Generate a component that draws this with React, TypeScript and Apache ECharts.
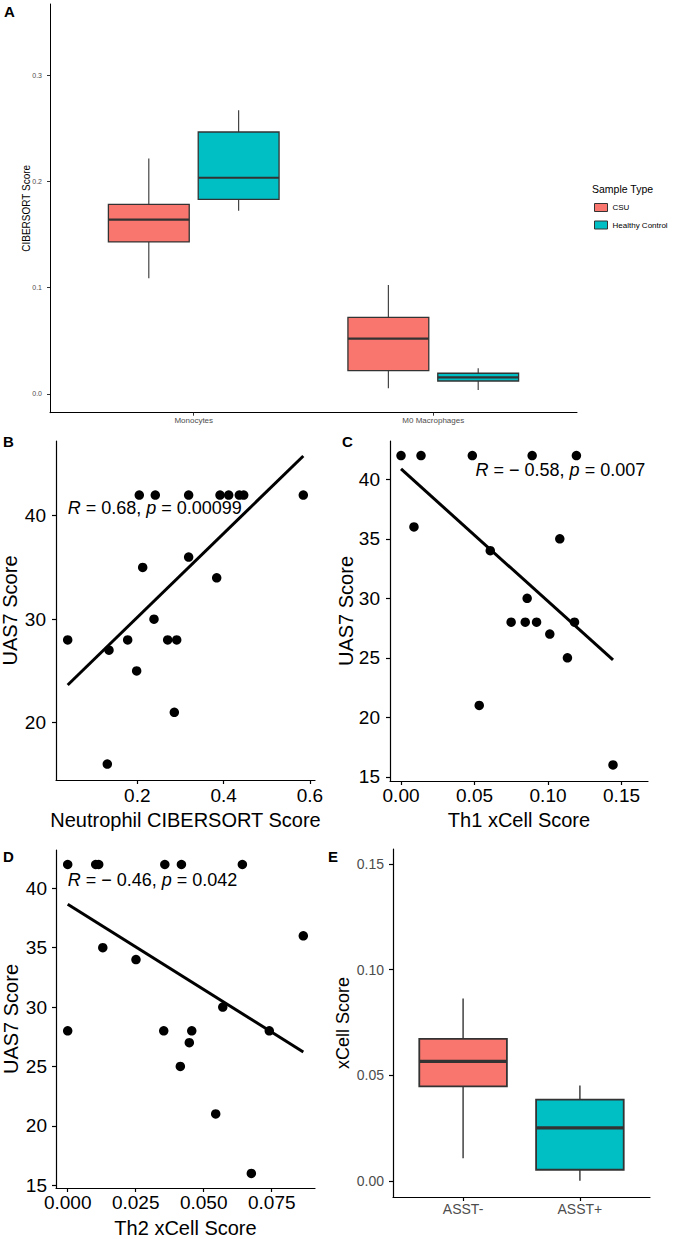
import React, { useEffect, useRef } from 'react';
import * as echarts from 'echarts';

const FONT = '"Liberation Sans", Arial, Helvetica, sans-serif';
const CSU_COLOR = '#F8766D';
const HC_COLOR = '#00BFC4';
const BOX_LINE = '#333333';
const GREY_TEXT = '#4D4D4D';

// ---------- Panel A ----------
const cellTypesA = ['Monocytes', 'M0 Macrophages'];
// [lower whisker, Q1, median, Q3, upper whisker]
const csuStatsA = [
  [0.1088, 0.143, 0.164, 0.1784, 0.2216],
  [0.0054, 0.0219, 0.052, 0.0721, 0.1025],
];
const hcStatsA = [
  [0.1724, 0.1831, 0.2034, 0.2464, 0.2668],
  [0.0038, 0.0122, 0.0157, 0.0195, 0.0242],
];
const yTicksA = [0, 0.1, 0.2, 0.3];
const sampleTypes = ['CSU', 'Healthy Control'];

// ---------- Panel B ----------
const neutrophilScore = [0.0387, 0.2046, 0.2417, 0.319, 0.3917, 0.4118, 0.4364, 0.4466, 0.5847, 0.319, 0.2125, 0.384, 0.2387, 0.2704, 0.2913, 0.1777, 0.1344, 0.1985, 0.2858, 0.1305];
const uasB = [28, 42, 42, 42, 42, 42, 42, 42, 42, 36, 35, 34, 30, 28, 28, 28, 27, 25, 21, 16];
const fitB = [[0.0387, 23.64], [0.5847, 45.77]];
const annB = { x: 0.0387, y: 40.72, text: '{i|R} = 0.68, {i|p} = 0.00099' };
const xTicksB = [0.2, 0.4, 0.6];
const yTicksB = [20, 30, 40];

// ---------- Panel C ----------
const th1Score = [0.0, 0.0136, 0.0485, 0.0892, 0.1193, 0.0088, 0.0607, 0.108, 0.0858, 0.0749, 0.0845, 0.0922, 0.118, 0.1012, 0.1132, 0.0532, 0.1442];
const uasC = [42, 42, 42, 42, 42, 36, 34, 35, 30, 28, 28, 28, 28, 27, 25, 21, 16];
const fitC = [[0.0, 40.87], [0.1442, 24.82]];
const annC = { x: 0.0507, y: 40.78, text: '{i|R} = \u2212 0.58, {i|p} = 0.007' };
const xTicksC = [0, 0.05, 0.1, 0.15];
const yTicksC = [15, 20, 25, 30, 35, 40];

// ---------- Panel D ----------
const th2Score = [0.0, 0.0, 0.0103, 0.0114, 0.0357, 0.0418, 0.0642, 0.0129, 0.0251, 0.0866, 0.057, 0.0353, 0.0456, 0.0741, 0.0447, 0.0414, 0.0544, 0.0675];
const uasD = [42, 28, 42, 42, 42, 42, 42, 35, 34, 36, 30, 28, 28, 28, 27, 25, 21, 16];
const fitD = [[0.0, 38.66], [0.0866, 26.22]];
const annD = { x: 0.0, y: 40.7, text: '{i|R} = \u2212 0.46, {i|p} = 0.042' };
const xTicksD = [0, 0.025, 0.05, 0.075];
const yTicksD = [15, 20, 25, 30, 35, 40];

// ---------- Panel E ----------
const asstGroups = ['ASST-', 'ASST+'];
const asstStats = [
  [0.0107, 0.0448, 0.0566, 0.0672, 0.0863],
  [0.0001, 0.0053, 0.0251, 0.0385, 0.0452],
];
const yTicksE = [0, 0.05, 0.1, 0.15];

function boxRenderer(offset: number, width: number, lw: { w: number; b: number; m: number }, fills: string[]) {
  return (params: any, api: any) => {
    const x = api.value(0) + offset;
    const lo = api.coord([x, api.value(1)]);
    const q1 = api.coord([x, api.value(2)]);
    const med = api.coord([x, api.value(3)]);
    const q3 = api.coord([x, api.value(4)]);
    const hi = api.coord([x, api.value(5)]);
    const half = api.size([width, 0])[0] / 2;
    const cx = lo[0];
    const fill = fills[params.dataIndex % fills.length];
    return {
      type: 'group',
      children: [
        { type: 'line', shape: { x1: cx, y1: hi[1], x2: cx, y2: q3[1] }, style: { stroke: BOX_LINE, lineWidth: lw.w } },
        { type: 'line', shape: { x1: cx, y1: q1[1], x2: cx, y2: lo[1] }, style: { stroke: BOX_LINE, lineWidth: lw.w } },
        { type: 'rect', shape: { x: cx - half, y: q3[1], width: half * 2, height: q1[1] - q3[1] }, style: { fill, stroke: BOX_LINE, lineWidth: lw.b } },
        { type: 'line', shape: { x1: cx - half, y1: med[1], x2: cx + half, y2: med[1] }, style: { stroke: BOX_LINE, lineWidth: lw.m } },
      ],
    };
  };
}

function axis(o: any) {
  return {
    type: 'value',
    gridIndex: o.grid,
    min: o.min,
    max: o.max,
    axisLine: { show: true, onZero: false, lineStyle: { color: '#000', width: o.lineWidth ?? 1.2 } },
    axisTick: { show: true, length: o.tickLen ?? 4, customValues: o.ticks, lineStyle: { color: o.tickColor ?? '#000', width: o.lineWidth ?? 1.2 } },
    axisLabel: {
      show: true,
      customValues: o.ticks,
      formatter: o.fmt,
      margin: o.margin,
      fontSize: o.fontSize,
      color: o.labelColor ?? '#000',
      fontFamily: FONT,
    },
    splitLine: { show: false },
    name: o.name,
    nameLocation: 'middle',
    nameGap: o.nameGap,
    nameMoveOverlap: false,
    nameTextStyle: { fontSize: o.nameSize, color: '#000', fontFamily: FONT },
  };
}

function scatterSeries(idx: number, xs: number[], ys: number[]) {
  return {
    type: 'scatter',
    xAxisIndex: idx,
    yAxisIndex: idx,
    data: xs.map((x, i) => [x, ys[i]]),
    symbolSize: 9.5,
    itemStyle: { color: '#000', opacity: 1 },
    silent: true,
    z: 3,
  };
}

function fitSeries(idx: number, pts: number[][]) {
  return {
    type: 'line',
    xAxisIndex: idx,
    yAxisIndex: idx,
    data: pts,
    symbol: 'none',
    lineStyle: { color: '#000', width: 3 },
    silent: true,
    z: 4,
  };
}

function annSeries(idx: number, ann: { x: number; y: number; text: string }) {
  return {
    type: 'scatter',
    xAxisIndex: idx,
    yAxisIndex: idx,
    data: [[ann.x, ann.y]],
    symbolSize: 0.01,
    itemStyle: { color: '#000', opacity: 1 },
    silent: true,
    z: 5,
    label: {
      show: true,
      position: 'right',
      distance: 0,
      formatter: ann.text,
      fontSize: 18,
      color: '#000',
      opacity: 1,
      fontFamily: FONT,
      rich: { i: { fontStyle: 'italic', fontSize: 18, color: '#000', fontFamily: FONT } },
    },
  };
}

export default function App() {
  const ref = useRef<HTMLDivElement>(null);
  useEffect(() => {
    if (!ref.current) return;
    const chart = echarts.init(ref.current, null, { renderer: 'svg' });
    const letter = (t: string, left: number, top: number) => ({
      text: t, left, top, padding: 0,
      textStyle: { fontSize: 15, fontWeight: 'bold', color: '#000', fontFamily: FONT },
    });
    const option: any = {
      animation: false,
      backgroundColor: '#fff',
      title: [
        letter('A', 4, 4),
        letter('B', 3, 434),
        letter('C', 342, 434),
        letter('D', 3, 849),
        letter('E', 328, 849),
        { text: 'Sample Type', left: 592, top: 183, padding: 0, textStyle: { fontSize: 10.5, fontWeight: 'normal', color: '#000', fontFamily: FONT } },
      ],
      legend: {
        data: sampleTypes,
        orient: 'vertical',
        left: 594,
        top: 203,
        itemWidth: 13,
        itemHeight: 8,
        itemGap: 8.5,
        icon: 'rect',
        itemStyle: { borderColor: BOX_LINE, borderWidth: 1 },
        textStyle: { fontSize: 8, color: '#000', fontFamily: FONT },
        padding: 0,
        selectedMode: false,
      },
      grid: [
        { left: 50, top: 4, width: 527, height: 408.7, outerBoundsMode: 'none' },
        { left: 56, top: 441, width: 259, height: 339, outerBoundsMode: 'none' },
        { left: 390, top: 441, width: 258, height: 340, outerBoundsMode: 'none' },
        { left: 56, top: 850, width: 259, height: 338, outerBoundsMode: 'none' },
        { left: 393, top: 849, width: 257, height: 348, outerBoundsMode: 'none' },
      ],
      xAxis: [
        axis({ grid: 0, min: 0.4, max: 2.6, ticks: [1, 2], fmt: (v: number) => cellTypesA[Math.round(v) - 1], margin: 4, fontSize: 8, labelColor: GREY_TEXT, tickLen: 3, lineWidth: 1, tickColor: BOX_LINE }),
        axis({ grid: 1, min: 0.0116, max: 0.6118, ticks: xTicksB, fmt: (v: number) => v.toFixed(1), margin: 6, fontSize: 19, name: 'Neutrophil CIBERSORT Score', nameGap: 30, nameSize: 20 }),
        axis({ grid: 2, min: -0.0075, max: 0.168, ticks: xTicksC, fmt: (v: number) => v.toFixed(2), margin: 5, fontSize: 19, name: 'Th1 xCell Score', nameGap: 29, nameSize: 20 }),
        axis({ grid: 3, min: -0.0043, max: 0.0909, ticks: xTicksD, fmt: (v: number) => v.toFixed(3), margin: 5, fontSize: 19, name: 'Th2 xCell Score', nameGap: 30, nameSize: 20 }),
        axis({ grid: 4, min: 0.4, max: 2.6, ticks: [1, 2], fmt: (v: number) => asstGroups[Math.round(v) - 1], margin: 5, fontSize: 14, labelColor: GREY_TEXT, tickLen: 4 }),
      ],
      yAxis: [
        axis({ grid: 0, min: -0.0176, max: 0.3668, ticks: yTicksA, fmt: (v: number) => v.toFixed(1), margin: 8, fontSize: 7, labelColor: GREY_TEXT, tickLen: 3, lineWidth: 1, tickColor: BOX_LINE, name: 'CIBERSORT Score', nameGap: 19, nameSize: 10 }),
        axis({ grid: 1, min: 14.46, max: 47.22, ticks: yTicksB, fmt: (v: number) => String(v), margin: 10, fontSize: 19, name: 'UAS7 Score', nameGap: 36, nameSize: 20 }),
        axis({ grid: 2, min: 14.65, max: 43.22, ticks: yTicksC, fmt: (v: number) => String(v), margin: 10, fontSize: 19, name: 'UAS7 Score', nameGap: 34, nameSize: 20 }),
        axis({ grid: 3, min: 14.77, max: 43.22, ticks: yTicksD, fmt: (v: number) => String(v), margin: 9, fontSize: 19, name: 'UAS7 Score', nameGap: 35, nameSize: 20 }),
        axis({ grid: 4, min: -0.0076, max: 0.1571, ticks: yTicksE, fmt: (v: number) => v.toFixed(2), margin: 9, fontSize: 14, labelColor: GREY_TEXT, name: 'xCell Score', nameGap: 41, nameSize: 18 }),
      ],
      series: [
        {
          type: 'custom', name: sampleTypes[0], xAxisIndex: 0, yAxisIndex: 0,
          data: csuStatsA.map((s, i) => [i + 1, ...s]),
          encode: { x: 0, y: [1, 2, 3, 4, 5] },
          itemStyle: { color: CSU_COLOR, borderColor: BOX_LINE, borderWidth: 1 },
          renderItem: boxRenderer(-0.1875, 0.3375, { w: 1.1, b: 1.3, m: 2.2 }, [CSU_COLOR]),
          silent: true,
        },
        {
          type: 'custom', name: sampleTypes[1], xAxisIndex: 0, yAxisIndex: 0,
          data: hcStatsA.map((s, i) => [i + 1, ...s]),
          encode: { x: 0, y: [1, 2, 3, 4, 5] },
          itemStyle: { color: HC_COLOR, borderColor: BOX_LINE, borderWidth: 1 },
          renderItem: boxRenderer(0.1875, 0.3375, { w: 1.1, b: 1.3, m: 2.2 }, [HC_COLOR]),
          silent: true,
        },
        scatterSeries(1, neutrophilScore, uasB),
        fitSeries(1, fitB),
        annSeries(1, annB),
        scatterSeries(2, th1Score, uasC),
        fitSeries(2, fitC),
        annSeries(2, annC),
        scatterSeries(3, th2Score, uasD),
        fitSeries(3, fitD),
        annSeries(3, annD),
        {
          type: 'custom', name: 'xCell Score', xAxisIndex: 4, yAxisIndex: 4,
          data: asstStats.map((s, i) => [i + 1, ...s]),
          encode: { x: 0, y: [1, 2, 3, 4, 5] },
          renderItem: boxRenderer(0, 0.75, { w: 1.4, b: 1.8, m: 3.2 }, [CSU_COLOR, HC_COLOR]),
          silent: true,
        },
      ],
    };
    chart.setOption(option);
    return () => chart.dispose();
  }, []);
  return (
    <div
      ref={ref}
      style={{ position: 'fixed', left: 0, top: 0, width: 675, height: 1239, background: '#fff' }}
    />
  );
}
